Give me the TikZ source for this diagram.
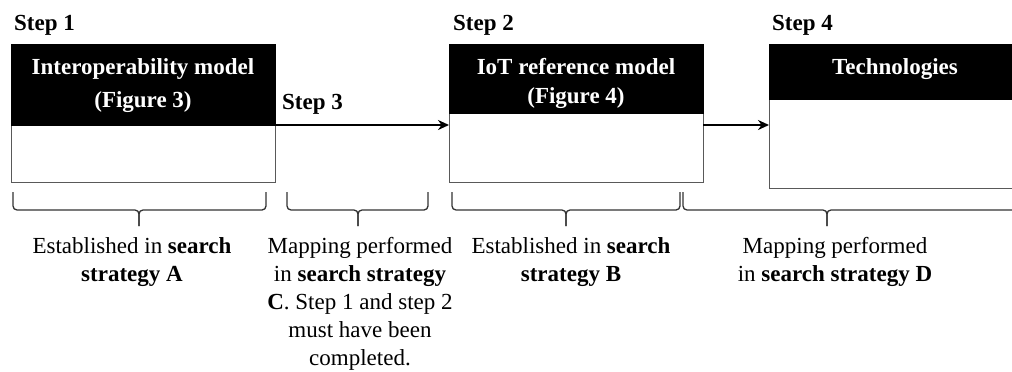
\documentclass[tikz,border=0pt]{standalone}
\usepackage{fontspec}
\setmainfont{Liberation Serif}
\usetikzlibrary{arrows.meta}
\tikzset{
  boxframe/.style={draw=black!65, line width=1.2pt, anchor=north west, inner sep=0pt},
  headbox/.style={fill=black, draw=black, line width=1pt, anchor=north west, inner sep=0pt},
  headtext/.style={text=white, font=\fontsize{23}{28}\selectfont\bfseries, align=center, inner sep=0pt, anchor=base},
  steplabel/.style={font=\fontsize{23}{28}\selectfont\bfseries, inner sep=0pt, anchor=base west},
  bodytext/.style={font=\fontsize{23}{28}\selectfont, align=center, inner sep=0pt, anchor=north},
  flow/.style={line width=2.6pt, -{Stealth[length=11pt,width=10pt]}},
  bracket/.style={draw=black!80, line width=1.3pt, rounded corners=4pt}
}
\newcommand{\mybracket}[3]{%
  \draw[bracket] (#1,192) -- (#1,210) -- (#3,210) -- (#3,226);
  \draw[bracket] (#2,192) -- (#2,210) -- (#3,210) -- (#3,226);}
\begin{document}
\begin{tikzpicture}[x=1pt,y=-1pt]
\useasboundingbox (0,0) rectangle (1012,372);
% boxes
\node[boxframe, minimum width=264pt, minimum height=138pt] (b1) at (11,44) {};
\node[headbox, minimum width=264pt, minimum height=81pt] (h1) at (11,44) {};
\node[boxframe, minimum width=254pt, minimum height=138pt] (b2) at (449,44) {};
\node[headbox, minimum width=254pt, minimum height=69pt] (h2) at (449,44) {};
\node[boxframe, minimum width=254pt, minimum height=144pt] (b3) at (769,44) {};
\node[headbox, minimum width=254pt, minimum height=55pt] (h3) at (769,44) {};
% header texts
\node[headtext] (t1a) at (143,74) {Interoperability model};
\node[headtext] (t1b) at (143,107) {(Figure 3)};
\node[headtext] (t2a) at (576,74) {IoT reference model};
\node[headtext] (t2b) at (576,103) {(Figure 4)};
\node[headtext] (t3) at (895,74) {Technologies};
% step labels
\node[steplabel] (s1) at (14,30) {Step 1};
\node[steplabel] (s2) at (453,30) {Step 2};
\node[steplabel] (s3) at (282,109) {Step 3};
\node[steplabel] (s4) at (772,30) {Step 4};
% arrows
\coordinate (a1s) at (275,125);
\coordinate (a1e) at (449,125);
\coordinate (a2s) at (703,125);
\coordinate (a2e) at (769,125);
\draw[flow] (a1s) -- (a1e);
\draw[flow] (a2s) -- (a2e);
% brackets
\mybracket{13}{266}{139}
\mybracket{287}{428}{358}
\mybracket{452}{680}{566}
\mybracket{683}{1030}{827}
% body texts
\node[bodytext] (la) at (132,237) {Established in \textbf{search}\\\textbf{strategy A}};
\node[bodytext] (lc) at (360,237) {Mapping performed\\in \textbf{search strategy}\\\textbf{C}. Step 1 and step 2\\must have been\\completed.};
\node[bodytext] (lb) at (571,237) {Established in \textbf{search}\\\textbf{strategy B}};
\node[bodytext] (ld) at (835,237) {Mapping performed\\in \textbf{search strategy D}};
\end{tikzpicture}
\end{document}
